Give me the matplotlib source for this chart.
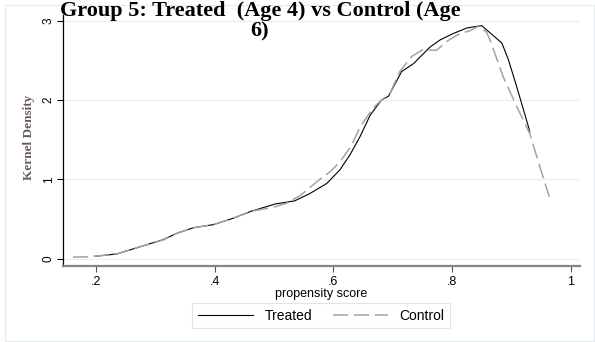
import matplotlib
matplotlib.use("Agg")
import matplotlib.pyplot as plt
from matplotlib.patches import Rectangle

# --- data ---
treated_x = [0.198, 0.235, 0.274, 0.313, 0.336, 0.364, 0.398, 0.431, 0.462, 0.502,
             0.535, 0.560, 0.589, 0.611, 0.628, 0.645, 0.662, 0.681, 0.693, 0.715,
             0.735, 0.763, 0.780, 0.802, 0.825, 0.841, 0.850, 0.864, 0.884, 0.895,
             0.909, 0.929, 0.931]
treated_y = [0.03, 0.06, 0.15, 0.24, 0.32, 0.39, 0.43, 0.51, 0.60, 0.69,
             0.73, 0.82, 0.95, 1.12, 1.31, 1.54, 1.81, 2.00, 2.05, 2.36,
             2.46, 2.67, 2.76, 2.84, 2.91, 2.93, 2.94, 2.85, 2.72, 2.51,
             2.17, 1.66, 1.60]

control_x = [0.161, 0.190, 0.235, 0.274, 0.313, 0.336, 0.364, 0.398, 0.431, 0.462,
             0.485, 0.504, 0.521, 0.545, 0.572, 0.595, 0.611, 0.630, 0.645, 0.667,
             0.681, 0.695, 0.712, 0.732, 0.749, 0.774, 0.791, 0.813, 0.830, 0.844,
             0.858, 0.864, 0.886, 0.909, 0.931, 0.948, 0.964]
control_y = [0.02, 0.025, 0.06, 0.15, 0.235, 0.32, 0.39, 0.43, 0.51, 0.60,
             0.63, 0.66, 0.70, 0.80, 0.97, 1.10, 1.22, 1.42, 1.66, 1.90,
             2.00, 2.08, 2.36, 2.55, 2.63, 2.63, 2.74, 2.84, 2.875, 2.93,
             2.86, 2.76, 2.30, 1.92, 1.58, 1.16, 0.78]

x_ticks = [0.2, 0.4, 0.6, 0.8, 1.0]
x_labels = [".2", ".4", ".6", ".8", "1"]
y_ticks = [0, 1, 2, 3]
y_labels = ["0", "1", "2", "3"]

plt.rcParams["lines.scale_dashes"] = False
sans = ["Liberation Sans", "DejaVu Sans"]
serif = ["Liberation Serif", "DejaVu Serif"]

W, H = 595, 342
fig = plt.figure(figsize=(W / 100, H / 100), dpi=100)

# faint outer frame (graph region)
fig.patches.append(Rectangle((5 / W, 1 / H), 589 / W, 336 / H, transform=fig.transFigure,
                             fill=False, edgecolor="#e4ecee", linewidth=0.8))

ax = fig.add_axes([63 / W, 1 - 266 / H, (580 - 63) / W, (266 - 15) / H])
ax.set_xlim(0.1444, 1.0157)
ax.set_ylim(-0.092, 3.074)

ax.plot(treated_x, treated_y, color="black", linewidth=0.8, label="Treated")
ax.plot(control_x, control_y, color="#a3a3a3", linewidth=1.1, dashes=(11, 4), label="Control")

# grid
ax.set_yticks(y_ticks)
ax.set_yticklabels(y_labels, rotation=90, va="center", fontfamily=sans, fontsize=8.5)
ax.set_xticks(x_ticks)
ax.set_xticklabels(x_labels, fontfamily=sans, fontsize=9)
ax.grid(axis="y", color="#e7eff0", linewidth=0.8)
ax.set_axisbelow(True)

for s in ["top", "right"]:
    ax.spines[s].set_visible(False)
ax.spines["left"].set_color("black")
ax.spines["left"].set_linewidth(0.9)
ax.spines["bottom"].set_color("#858585")
ax.spines["bottom"].set_linewidth(1.6)
ax.tick_params(axis="y", length=4, width=0.8, color="black", pad=2)
ax.tick_params(axis="x", length=4, width=0.8, color="#555555", pad=3)

ax.set_xlabel("propensity score", fontfamily=sans, fontsize=9, labelpad=0)
fig.text(29 / W, 1 - 137 / H, "Kernel Density", rotation=90, ha="center", va="center",
         fontfamily=serif, fontsize=9.5, fontweight="bold", color="#6a5e5a")

# title, wrapped like the original
fig.text(260 / W, 1 - 16 / H, "Group 5: Treated  (Age 4) vs Control (Age", ha="center",
         va="baseline", fontfamily=serif, fontsize=16, fontweight="bold")
fig.text(260 / W, 1 - 36 / H, "6)", ha="center", va="baseline",
         fontfamily=serif, fontsize=16, fontweight="bold")

leg = fig.legend(loc="center", bbox_to_anchor=(321 / W, 1 - 315.5 / H), ncol=2,
                 prop={"family": sans, "size": 10}, frameon=True, fancybox=False,
                 handlelength=4.0, handletextpad=0.8, columnspacing=1.5,
                 borderpad=0.4, borderaxespad=0)
leg.get_frame().set_edgecolor("#dcdcdc")
leg.get_frame().set_linewidth(0.8)

fig.savefig("out.png", dpi=100)
